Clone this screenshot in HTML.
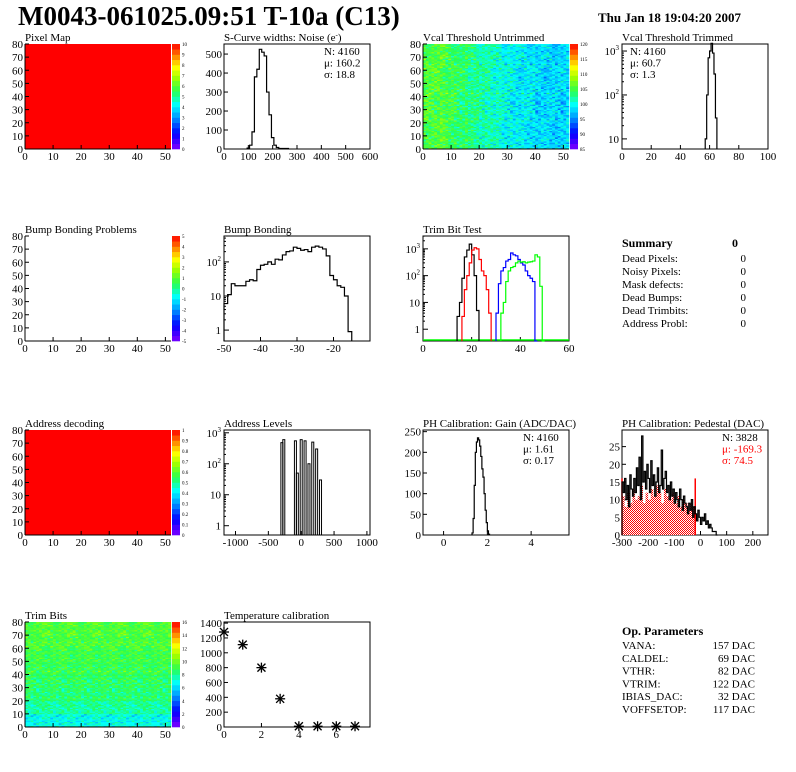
<!DOCTYPE html>
<html><head><meta charset="utf-8"><style>
html,body{margin:0;padding:0;background:#fff;}
svg{display:block;font-family:"Liberation Serif",serif;}
</style></head><body>
<svg id="c" width="796" height="772" viewBox="0 0 796 772" xmlns="http://www.w3.org/2000/svg">
<text x="18" y="25" font-size="27" font-weight="bold">M0043-061025.09:51 T-10a (C13)</text>
<text x="598" y="22" font-size="13" font-weight="bold">Thu Jan 18 19:04:20 2007</text>
</svg>
<script>
// ---------- data ----------
const scurveCounts=[5,20,90,380,420,525,510,490,300,180,60,20,8,3,3,3,3];
const scurveStart=95, scurveBin=10;
const vcalTrimCounts=[10,100,700,1000,1500,900,300,30];
const vcalTrimStart=57;
const bumpCounts=[6,11,23,20,20,20,27,30,28,60,80,85,100,85,120,115,160,200,210,270,250,220,230,200,270,290,270,240,150,40,30,20,18,10,0.9];
const bumpStart=-50;
const trimBlack=[3,10,80,500,900,1500,600,100,5];
const trimBlackStart=14;
const trimRed=[3,30,100,300,900,1100,1000,400,150,100,30,4];
const trimRedStart=16;
const trimBlue=[4,50,150,200,350,400,700,600,550,400,300,250,150,100,80,60,0.3];
const trimBlueStart=30;
const trimGreen=[4,10,60,150,200,220,300,350,320,330,300,320,330,350,600,500,40,0.3];
const trimGreenStart=32;
const addrPos=[-294,-265,-88,-59,0,59,118,176,235,294];
const addrCounts=[480,600,550,50,600,550,100,500,300,30];
const gainCounts=[5,40,120,200,225,235,230,215,190,160,140,100,60,30,10,2];
const gainStart=1.3, gainBin=0.05;
const pedBlack=[15,12,16,10,14,8,17,13,11,16,12,19,14,22,10,28,15,18,13,20,16,12,21,14,17,11,15,19,12,14,24,13,16,18,12,14,10,15,11,13,9,12,10,8,13,10,7,11,9,8,6,9,7,10,5,8,6,4,7,5,3,5,4,6,3,4,2,3,2,1,1,1,0];
const pedStart=-300, pedBin=5;
const pedRed=[11,8,12,9,13,10,11,14,9,12,10,13,11,14,12,9,13,11,10,12,9,11,8,10,9,7,9,8];
const pedRedBin=10;
const tempX=[0,1,2,3,4,5,6,7];
const tempY=[1280,1110,800,380,10,10,10,10];
const vcalColMeans=[107,107,106,105,104,103,102,101,100,100,99,99,99];
const trimRowMeans=[6.8,7.8,8.3,8.6,8.8,9,9.2,9.4];
const texture=[[2,-3,5,0,-4,1,3,-2,6],[-1,4,-5,2,0,-3,1,5,-2],[3,0,-2,-6,4,2,-1,0,3],[-4,2,1,3,-2,5,0,-3,1],[0,-5,3,1,2,-1,-4,2,-3],[5,1,-1,-2,3,0,2,-5,0],[-2,3,0,4,-3,-2,5,1,-1]];
const summaryLabels=["Dead Pixels:","Noisy Pixels:","Mask defects:","Dead Bumps:","Dead Trimbits:","Address Probl:"];
const summaryValues=[0,0,0,0,0,0];
const opLabels=["VANA:","CALDEL:","VTHR:","VTRIM:","IBIAS_DAC:","VOFFSETOP:"];
const opValues=["157 DAC","69 DAC","82 DAC","122 DAC","32 DAC","117 DAC"];

// ---------- helpers ----------
const NS="http://www.w3.org/2000/svg";
const svg=document.getElementById('c');
function mk(tag,attrs,parent,txt){const e=document.createElementNS(NS,tag);for(const k in attrs)e.setAttribute(k,attrs[k]);if(txt!==undefined)e.textContent=txt;(parent||svg).appendChild(e);return e;}
function lin(d0,d1,p0,p1){return v=>p0+(v-d0)/(d1-d0)*(p1-p0);}
function logs(l0,l1,p0,p1){return v=>p0+(Math.log10(Math.max(v,Math.pow(10,l0)))-l0)/(l1-l0)*(p1-p0);}
const COLS=[25,224,423,622], ROWS=[44,236,430,622], PW=146, PH=105;
function tex(c,r){return 0.6*texture[r%7][c%9]+0.5*texture[Math.floor(r/3)%7][(c*4+Math.floor(r/2))%9];}
function panel(name,c,r,title){
  const g=mk('g',{});
  
  
  const x0=COLS[c],y0=ROWS[r];
  const t=mk('text',{x:x0,y:y0-3,'font-size':11},g,title);
  
  
  return {g,x0,y0,x1:x0+PW,y1:y0+PH};
}
function frame(p){const f=mk('rect',{x:p.x0,y:p.y0,width:PW,height:PH,fill:'none',stroke:'#000','stroke-width':1},p.g);
  }
function xTicks(p,sx,vals,labels,fs){vals.forEach((v,i)=>{const x=sx(v);
  mk('line',{x1:x,x2:x,y1:p.y1,y2:p.y1-4,stroke:'#000'},p.g);
  const t=mk('text',{x:x,y:p.y1+11,'font-size':fs||11,'text-anchor':'middle'},p.g,labels[i]);
  });}
function yTicks(p,sy,vals,labels,fs){vals.forEach((v,i)=>{const y=sy(v);
  mk('line',{x1:p.x0,x2:p.x0+4,y1:y,y2:y,stroke:'#000'},p.g);
  const t=mk('text',{x:p.x0-2,y:y+4,'font-size':fs||11,'text-anchor':'end'},p.g,labels[i]);
  });}
function yLogTicks(p,sy,decades){decades.forEach(d=>{const y=sy(Math.pow(10,d));
  mk('line',{x1:p.x0,x2:p.x0+5,y1:y,y2:y,stroke:'#000'},p.g);
  for(let m=2;m<10;m++){const yy=sy(m*Math.pow(10,d));if(yy>p.y0&&yy<p.y1)mk('line',{x1:p.x0,x2:p.x0+2,y1:yy,y2:yy,stroke:'#000'},p.g);}
  const t=mk('text',{x:p.x0-3,y:y+4,'font-size':11,'text-anchor':'end'},p.g);
  
  if(d===0)t.textContent='1';else if(d===1)t.textContent='10';else{t.textContent='10';mk('tspan',{dy:-5,'font-size':7},t,String(d));}
 });}
function steps(p,sx,sy,start,bin,vals,color,name){let d='M'+sx(start)+','+p.y1;
  vals.forEach((v,i)=>{const y=Math.min(sy(v),p.y1);d+=' L'+sx(start+i*bin)+','+y+' L'+sx(start+(i+1)*bin)+','+y;});
  d+=' L'+sx(start+vals.length*bin)+','+p.y1;
  const e=mk('path',{d:d,fill:'none',stroke:color,'stroke-width':1.2},p.g);
  }
function stats(p,lines,x,colors){lines.forEach((l,i)=>{const t=mk('text',{x:x,y:p.y0+11+i*11.5,'font-size':11,fill:(colors&&colors[i])||'#000'},p.g,l);
  });}
const stops=[[0,[128,0,255]],[0.15,[0,0,255]],[0.3,[0,150,255]],[0.42,[0,255,255]],[0.55,[40,255,80]],[0.68,[160,255,0]],[0.78,[255,255,0]],[0.88,[255,140,0]],[1,[255,0,0]]];
function pal(f){f=Math.max(0,Math.min(1,f));for(let i=1;i<stops.length;i++){if(f<=stops[i][0]){const a=stops[i-1],b=stops[i],t=(f-a[0])/(b[0]-a[0]);
  return 'rgb('+a[1].map((c,k)=>Math.round(c+(b[1][k]-c)*t)).join(',')+')';}}return 'rgb(255,0,0)';}
function palette(p,labels){const x=p.x1+1,n=20,h=PH/n;
  const g=mk('g',{},p.g);
  for(let i=0;i<n;i++)mk('rect',{x:x,y:p.y1-(i+1)*h,width:8,height:h+0.3,fill:pal((i+0.5)/n)},g);
  labels.forEach((l,i)=>{const y=p.y1-i/(labels.length-1)*PH;mk('text',{x:x+10,y:y+2,'font-size':5},g,l);});}
function heatAxes(p){const sx=lin(0,52,p.x0,p.x1),sy=lin(0,80,p.y1,p.y0);
  xTicks(p,sx,[0,10,20,30,40,50],['0','10','20','30','40','50']);
  yTicks(p,sy,[0,10,20,30,40,50,60,70,80],['0','10','20','30','40','50','60','70','80']);
  mk('line',{x1:p.x0,x2:p.x0,y1:p.y0,y2:p.y1,stroke:'#000'},p.g);mk('line',{x1:p.x0,x2:p.x1,y1:p.y1,y2:p.y1,stroke:'#000'},p.g);}
function heat(p,fn,lo,hi){const cw=PW/52,ch=PH/80;const g=mk('g',{},p.g);
  
  for(let c=0;c<52;c++)for(let r=0;r<80;r++){const v=fn(c,r);
    mk('rect',{x:(p.x0+c*cw).toFixed(2),y:(p.y1-(r+1)*ch).toFixed(2),width:(cw+0.3).toFixed(2),height:(ch+0.3).toFixed(2),fill:pal((v-lo)/(hi-lo))},g);}}

// ---------- Row 1 ----------
let p=panel('pixel-map',0,0,'Pixel Map');
mk('rect',{x:p.x0,y:p.y0,width:PW,height:PH,fill:'#ff0000'},p.g);
heatAxes(p);palette(p,['0','1','2','3','4','5','6','7','8','9','10']);

p=panel('s-curve-noise',1,0,'');p.g.querySelector('text').innerHTML='S-Curve widths: Noise (e<tspan dy="-4" font-size="7">-</tspan><tspan dy="4">)</tspan>';
frame(p);{const sx=lin(0,600,p.x0,p.x1),sy=lin(0,553,p.y1,p.y0);
xTicks(p,sx,[0,100,200,300,400,500,600],['0','100','200','300','400','500','600']);
yTicks(p,sy,[0,100,200,300,400,500],['0','100','200','300','400','500']);
steps(p,sx,sy,scurveStart,scurveBin,scurveCounts,'#000','noise-histogram');
stats(p,['N: 4160','\u03bc: 160.2','\u03c3: 18.8'],p.x0+100);}

p=panel('vcal-threshold-untrimmed',2,0,'Vcal Threshold Untrimmed');
heat(p,(c,r)=>vcalColMeans[Math.floor(c/4)]+tex(c,r)*0.9,85,123);
heatAxes(p);palette(p,['85','90','95','100','105','110','115','120']);

p=panel('vcal-threshold-trimmed',3,0,'Vcal Threshold Trimmed');
frame(p);{const sx=lin(0,100,p.x0,p.x1),sy=logs(0.77,3.16,p.y1,p.y0);
xTicks(p,sx,[0,20,40,60,80,100],['0','20','40','60','80','100']);
yLogTicks(p,sy,[1,2,3]);
steps(p,sx,sy,vcalTrimStart,1,vcalTrimCounts,'#000','vcal-trimmed-histogram');
stats(p,['N: 4160','\u03bc: 60.7','\u03c3:  1.3'],p.x0+8);}

// ---------- Row 2 ----------
p=panel('bump-bonding-problems',0,1,'Bump Bonding Problems');
heatAxes(p);palette(p,['-5','-4','-3','-2','-1','0','1','2','3','4','5']);

p=panel('bump-bonding',1,1,'Bump Bonding');
frame(p);{const sx=lin(-50,-10,p.x0,p.x1),sy=logs(-0.32,2.76,p.y1,p.y0);
xTicks(p,sx,[-50,-40,-30,-20],['-50','-40','-30','-20']);
yLogTicks(p,sy,[0,1,2]);
steps(p,sx,sy,bumpStart,1,bumpCounts,'#000','bump-histogram');}

p=panel('trim-bit-test',2,1,'Trim Bit Test');
frame(p);{const sx=lin(0,60,p.x0,p.x1),sy=logs(-0.44,3.48,p.y1,p.y0);
xTicks(p,sx,[0,20,40,60],['0','20','40','60']);
yLogTicks(p,sy,[0,1,2,3]);
mk('line',{x1:p.x0,x2:p.x1,y1:p.y1-1,y2:p.y1-1,stroke:'#00ff00','stroke-width':1.5},p.g);
steps(p,sx,sy,trimBlackStart,1,trimBlack,'#000','trim-bit-black');
steps(p,sx,sy,trimRedStart,1,trimRed,'#ff0000','trim-bit-red');
steps(p,sx,sy,trimBlueStart,1,trimBlue,'#0000ff','trim-bit-blue');
steps(p,sx,sy,trimGreenStart,1,trimGreen,'#00ff00','trim-bit-green');}

{const g=mk('g',{});
mk('text',{x:622,y:247,'font-size':12,'font-weight':'bold'},g,'Summary');
mk('text',{x:732,y:247,'font-size':12,'font-weight':'bold'},g,'0');
summaryLabels.forEach((l,i)=>{mk('text',{x:622,y:262+i*13,'font-size':11},g,l);mk('text',{x:746,y:262+i*13,'font-size':11,'text-anchor':'end'},g,String(summaryValues[i]));});}

// ---------- Row 3 ----------
p=panel('address-decoding',0,2,'Address decoding');
mk('rect',{x:p.x0,y:p.y0,width:PW,height:PH,fill:'#ff0000'},p.g);
heatAxes(p);palette(p,['0','0.1','0.2','0.3','0.4','0.5','0.6','0.7','0.8','0.9','1']);

p=panel('address-levels',1,2,'Address Levels');
frame(p);{const sx=lin(-1175,1047,p.x0,p.x1),sy=logs(-0.3,3.09,p.y1,p.y0);
xTicks(p,sx,[-1000,-500,0,500,1000],['-1000','-500','0','500','1000']);
yLogTicks(p,sy,[0,1,2,3]);
addrPos.forEach((v,i)=>{const b=mk('rect',{x:sx(v)-1,y:sy(addrCounts[i]),width:2,height:p.y1-sy(addrCounts[i]),fill:'none',stroke:'#000','stroke-width':1},p.g);
 });}

p=panel('ph-calibration-gain',2,2,'PH Calibration: Gain (ADC/DAC)');
frame(p);{const sx=lin(-0.94,5.73,p.x0,p.x1),sy=lin(0,254,p.y1,p.y0);
xTicks(p,sx,[0,2,4],['0','2','4']);
yTicks(p,sy,[0,50,100,150,200,250],['0','50','100','150','200','250']);
steps(p,sx,sy,gainStart,gainBin,gainCounts,'#000','gain-histogram');
stats(p,['N: 4160','\u03bc: 1.61','\u03c3: 0.17'],p.x0+100);}

p=panel('ph-calibration-pedestal',3,2,'PH Calibration: Pedestal (DAC)');
frame(p);{const sx=lin(-300,258,p.x0,p.x1),sy=lin(0,29.7,p.y1,p.y0);
xTicks(p,sx,[-300,-200,-100,0,100,200],['-300','-200','-100','0','100','200']);
yTicks(p,sy,[0,5,10,15,20,25],['0','5','10','15','20','25']);
const defs=mk('defs',{},p.g);const pt=mk('pattern',{id:'hatch',width:2,height:2,patternUnits:'userSpaceOnUse'},defs);
mk('rect',{x:0,y:0,width:2,height:2,fill:'#ffffff'},pt);
mk('rect',{x:0,y:0,width:1,height:1,fill:'#ff0000'},pt);mk('rect',{x:1,y:1,width:1,height:1,fill:'#ff0000'},pt);
let d='M'+sx(pedStart)+','+p.y1;pedRed.forEach((v,i)=>{d+=' L'+sx(pedStart+i*pedRedBin)+','+sy(v)+' L'+sx(pedStart+(i+1)*pedRedBin)+','+sy(v);});
d+=' L'+sx(pedStart+pedRed.length*pedRedBin)+','+p.y1+'Z';
const rf=mk('path',{d:d,fill:'url(#hatch)',stroke:'none'},p.g);
[-300,-20].forEach(v=>mk('line',{x1:sx(v),x2:sx(v),y1:p.y1,y2:sy(16),stroke:'#ff0000','stroke-width':1.5},p.g));
steps(p,sx,sy,pedStart,pedBin,pedBlack,'#000','pedestal-histogram');
stats(p,['N: 3828','\u03bc: -169.3','\u03c3: 74.5'],p.x0+100,['#000','#ff0000','#ff0000']);}

// ---------- Row 4 ----------
p=panel('trim-bits',0,3,'Trim Bits');
heat(p,(c,r)=>trimRowMeans[Math.floor(r/10)]+tex(c,r)*0.3,0,16);
heatAxes(p);palette(p,['0','2','4','6','8','10','12','14','16']);

p=panel('temperature-calibration',1,3,'Temperature calibration');
frame(p);{const sx=lin(0,7.8,p.x0,p.x1),sy=lin(0,1415,p.y1,p.y0);
xTicks(p,sx,[0,2,4,6],['0','2','4','6']);
yTicks(p,sy,[0,200,400,600,800,1000,1200,1400],['0','200','400','600','800','1000','1200','1400']);
tempX.forEach((v,i)=>{const x=sx(v),y=sy(tempY[i]);const g=mk('g',{stroke:'#000','stroke-width':1.3},p.g);
 
 mk('line',{x1:x-5,x2:x+5,y1:y,y2:y},g);mk('line',{x1:x,x2:x,y1:y-5,y2:y+5},g);
 mk('line',{x1:x-4,x2:x+4,y1:y-4,y2:y+4},g);mk('line',{x1:x-4,x2:x+4,y1:y+4,y2:y-4},g);});}

{const g=mk('g',{});
mk('text',{x:622,y:635,'font-size':12,'font-weight':'bold'},g,'Op. Parameters');
opLabels.forEach((l,i)=>{mk('text',{x:622,y:649+i*12.8,'font-size':11},g,l);mk('text',{x:755,y:649+i*12.8,'font-size':11,'text-anchor':'end'},g,opValues[i]);});}
</script>
</body></html>
